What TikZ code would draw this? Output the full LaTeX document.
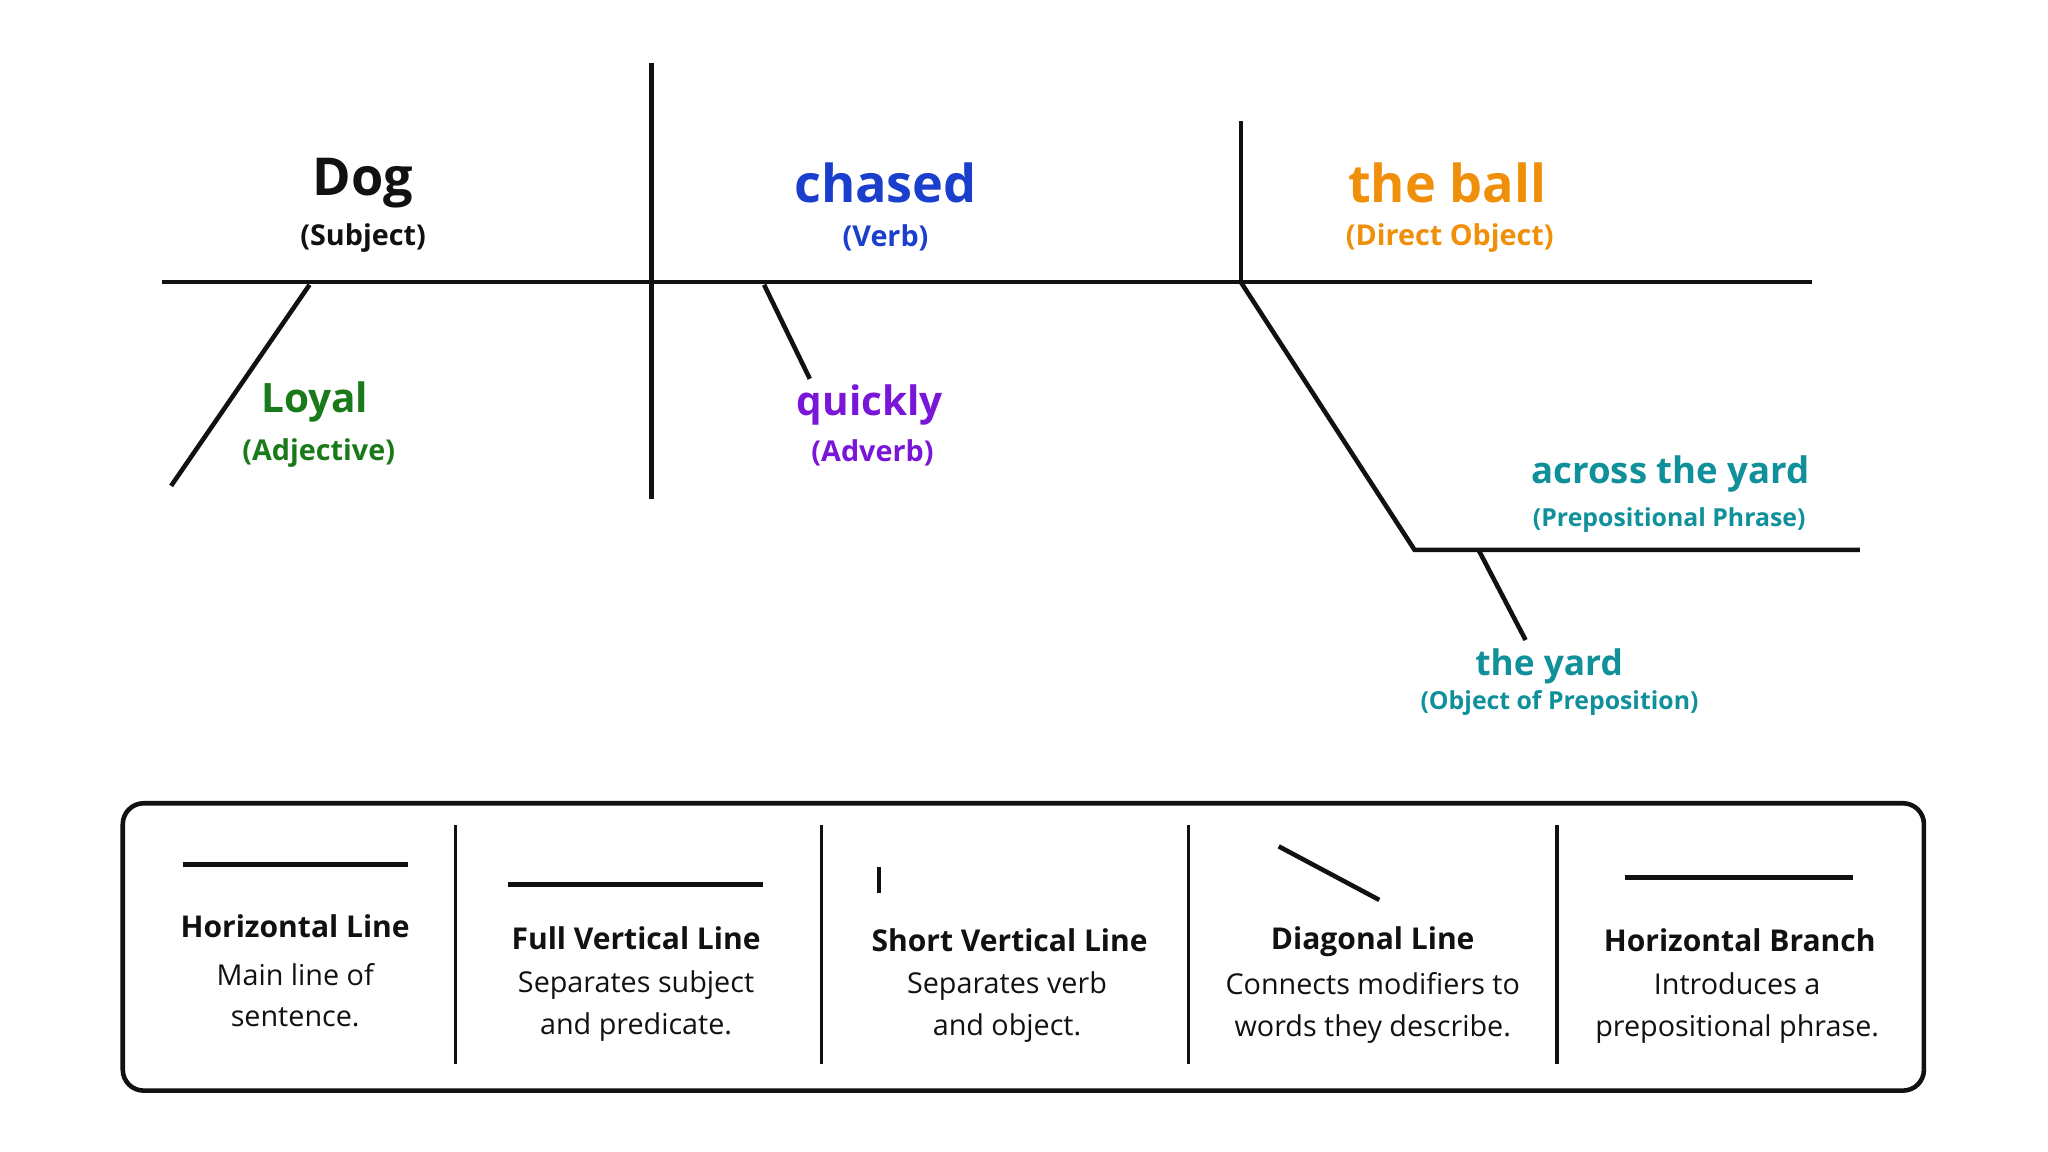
\documentclass[tikz,border=0pt]{standalone}
\usepackage{fontspec}
\setmainfont{Open Sans}
\definecolor{cblue}{HTML}{1A3FCC}
\definecolor{corange}{HTML}{F0900A}
\definecolor{cgreen}{HTML}{1A7A1A}
\definecolor{cpurple}{HTML}{7A16D8}
\definecolor{cteal}{HTML}{10909A}
\definecolor{ink}{HTML}{111111}
\begin{document}
\begin{tikzpicture}[x=1pt,y=-1pt,
  ln/.style={line width=3.5pt,draw=ink},
  big/.style={font=\fontsize{40}{44}\selectfont\bfseries},
  mid/.style={font=\fontsize{31}{34}\selectfont\bfseries},
  sml/.style={font=\fontsize{22}{26}\selectfont\bfseries},
  tiny/.style={font=\fontsize{19}{22}\selectfont\bfseries},
  ttl/.style={font=\fontsize{23}{27}\selectfont\bfseries,text=ink},
  body/.style={font=\fontsize{22}{32}\selectfont,text=ink,align=center}]
\useasboundingbox (0,0) rectangle (1568,882);
\fill[white] (0,0) rectangle (1568,882);
% main lines
\coordinate (m1) at (124,216); \coordinate (m2) at (1387,216);
\draw[ln] (m1) -- (m2);
\coordinate (v1) at (499,48); \coordinate (v2) at (499,382);
\draw[ln] (v1) -- (v2);
\coordinate (s1) at (950,93); \coordinate (s2) at (950,216);
\draw[ln] (s1) -- (s2);
\coordinate (d1) at (237,218); \coordinate (d2) at (131,372);
\draw[ln] (d1) -- (d2);
\coordinate (q1) at (585,218); \coordinate (q2) at (620,290);
\draw[ln] (q1) -- (q2);
\coordinate (p0) at (1083,421); \coordinate (p1) at (1424,421);
\draw[ln] (s2) -- (p0) -- (p1);
\coordinate (y1) at (1132,421); \coordinate (y2) at (1168,490);
\draw[ln] (y1) -- (y2);
% labels
\node[big,text=ink] (dog) at (278,140) {Dog};
\node[sml,text=ink] (dogs) at (278,182) {(Subject)};
\node[big,text=cblue] (ch) at (678,140) {chased};
\node[sml,text=cblue] (chs) at (678,182) {(Verb)};
\node[big,text=corange] (ball) at (1108,140) {the ball};
\node[sml,text=corange] (balls) at (1110,182) {(Direct Object)};
\node[mid,text=cgreen] (loy) at (241,308) {Loyal};
\node[sml,text=cgreen] (loys) at (244,347) {(Adjective)};
\node[mid,text=cpurple] (qk) at (666,310) {quickly};
\node[sml,text=cpurple] (qks) at (668,347) {(Adverb)};
\node[font=\fontsize{28}{32}\selectfont\bfseries,text=cteal] (acr) at (1279,363) {across the yard};
\node[tiny,text=cteal] (acrs) at (1278,398) {(Prepositional Phrase)};
\node[font=\fontsize{27}{30}\selectfont\bfseries,text=cteal] (yd) at (1186,510) {the yard};
\node[tiny,text=cteal] (yds) at (1194,538) {(Object of Preposition)};
% legend
\draw[ln,rounded corners=16pt] (94,615) rectangle (1473,835);
\foreach \x in {349,629,910,1192}{\draw[line width=2.5pt,draw=ink] (\x,632) -- (\x,815);}
\draw[ln] (140,662) -- (312,662);
\node[ttl] (t1) at (226,709) {Horizontal Line};
\node[body] (b1) at (226,762) {Main line of\\sentence.};
\draw[ln] (389,677) -- (584,677);
\node[ttl] (t2) at (487,718) {Full Vertical Line};
\node[body] (b2) at (487,770) {Separates subject\\and predicate.};
\draw[ln] (673,664) -- (673,684);
\node[ttl] (t3) at (773,720) {Short Vertical Line};
\node[body] (b3) at (771,771) {Separates verb\\and object.};
\draw[ln] (979,648) -- (1056,689);
\node[ttl] (t4) at (1051,721) {Diagonal Line};
\node[body] (b4) at (1051,772) {Connects modifiers to\\words they describe.};
\draw[ln] (1244,672) -- (1419,672);
\node[ttl] (t5) at (1332,720) {Horizontal Branch};
\node[body] (b5) at (1330,772) {Introduces a\\prepositional phrase.};
\end{tikzpicture}
\end{document}
